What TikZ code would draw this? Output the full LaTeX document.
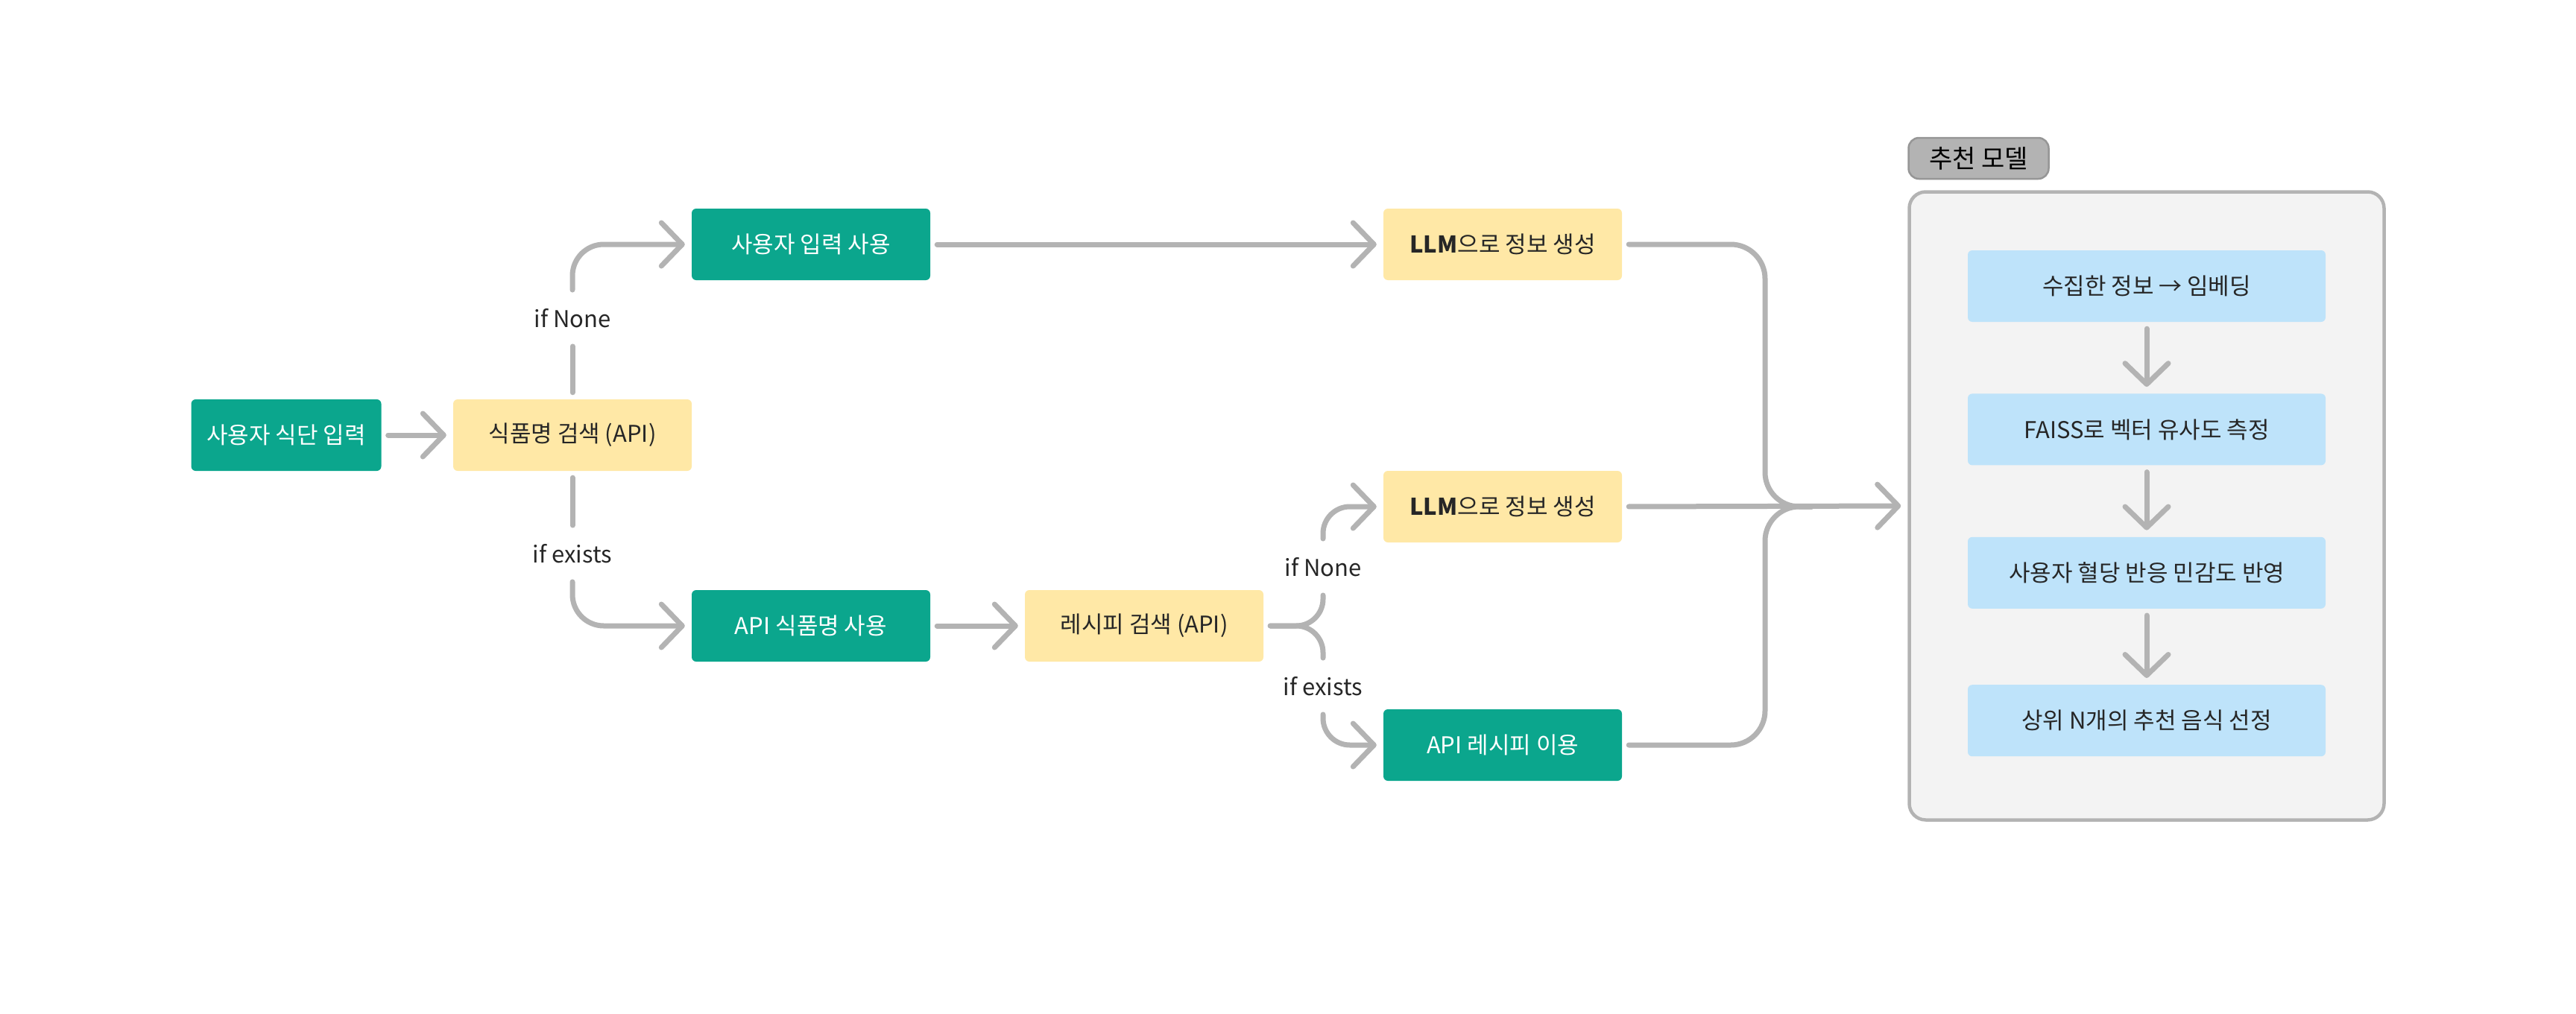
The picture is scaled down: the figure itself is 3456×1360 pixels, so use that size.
\documentclass[tikz,border=0pt]{standalone}
\usepackage{fontspec}
\setmainfont{Noto Sans CJK KR}
\usetikzlibrary{arrows.meta,positioning}

\definecolor{boxgreen}{RGB}{11,166,141}
\definecolor{boxyellow}{RGB}{255,232,166}
\definecolor{boxblue}{RGB}{190,227,250}
\definecolor{linegray}{RGB}{179,179,179}
\definecolor{tagborder}{RGB}{150,150,150}
\definecolor{panelgray}{RGB}{243,243,243}
\definecolor{textdark}{RGB}{38,38,38}

\tikzset{
	basebox/.style={rounded corners=6pt, minimum width=320pt, minimum height=96pt, inner sep=0pt, font=\fontsize{31}{37}\selectfont},
	greenbox/.style={basebox, fill=boxgreen, text=white},
	yellowbox/.style={basebox, fill=boxyellow, text=textdark},
	bluebox/.style={basebox, fill=boxblue, text=textdark, minimum width=480pt},
	branchlabel/.style={text=textdark, inner xsep=0pt, inner ysep=16pt, font=\fontsize{31}{37}\selectfont},
	link/.style={draw=linegray, line width=7pt, line cap=round, line join=round, rounded corners=42pt, shorten <=9pt, shorten >=9pt},
	tip/.style={-{Straight Barb[length=28pt,width=58pt,round]}},
}

\begin{document}
\begin{tikzpicture}[x=1pt,y=1pt,yscale=-1,xscale=1]
	\useasboundingbox (0,0) rectangle (3456,1360);
	
	%Shape: Rectangle [recommendation panel]
	\node[draw=linegray, fill=panelgray, line width=4.5pt, rounded corners=22pt, minimum width=637pt, minimum height=843pt] (model) at (2880,679) {};
	\node[fill=linegray, draw=tagborder, line width=2.5pt, rounded corners=14pt, minimum width=188pt, minimum height=55pt, inner sep=0pt, font=\fontsize{34}{40}\selectfont, anchor=south west] (modeltag) at ([yshift=-14pt]model.north west) {추천 모델};
	
	% left part
	\node[greenbox, minimum width=255pt] (dietin) at (384,584) {사용자 식단 입력};
	\node[yellowbox] (foodsearch) at (768,584) {식품명 검색 (API)};
	\node[greenbox] (userinput) at (1088,328) {사용자 입력 사용};
	\node[greenbox] (apiname) at (1088,840) {API 식품명 사용};
	\node[yellowbox] (recipesearch) at (1535,840) {레시피 검색 (API)};
	
	% right part
	\node[yellowbox] (llmtop) at (2016,328) {{\bfseries LLM}으로 정보 생성};
	\node[yellowbox] (llmmid) at (2016,680) {{\bfseries LLM}으로 정보 생성};
	\node[greenbox] (apirecipe) at (2016,1000) {API 레시피 이용};
	
	% Text Node
	\node[branchlabel] (nonefood) at (768,427) {if None};
	\node[branchlabel] (existfood) at (768,743) {if exists};
	\node[branchlabel] (nonerecipe) at (1775,761) {if None};
	\node[branchlabel] (existrecipe) at (1775,921) {if exists};
	
	% model steps
	\node[bluebox] (embed) at (2880,384) {수집한 정보 → 임베딩};
	\node[bluebox, below=96pt of embed] (faiss) {FAISS로 벡터 유사도 측정};
	\node[bluebox, below=96pt of faiss] (glucose) {사용자 혈당 반응 민감도 반영};
	\node[bluebox, below=102pt of glucose] (topn) {상위 N개의 추천 음식 선정};
	
	\coordinate (merge) at (2368,680);
	\coordinate (mergeout) at (2440,680);
	
	%Straight Lines
	\draw[link,tip] (dietin) -- (foodsearch);
	\draw[link] (foodsearch) -- (nonefood);
	\draw[link,tip] (nonefood.north) |- (userinput.west);
	\draw[link] (foodsearch) -- (existfood);
	\draw[link,tip] (existfood.south) |- (apiname.west);
	\draw[link,tip] (apiname) -- (recipesearch);
	\draw[link,tip] (userinput) -- (llmtop);
	
	% recipe branch
	\draw[link, rounded corners=36pt] (recipesearch.east) -| (nonerecipe.south);
	\draw[link, rounded corners=36pt] (recipesearch.east) -| (existrecipe.north);
	\draw[link,tip, rounded corners=36pt] (nonerecipe.north) |- (llmmid.west);
	\draw[link,tip, rounded corners=36pt] (existrecipe.south) |- (apirecipe.west);
	
	% merge into model
	\draw[link, rounded corners=46pt] (llmtop.east) -| (merge) -- (mergeout);
	\draw[link, rounded corners=46pt] (apirecipe.east) -| (merge) -- (mergeout);
	\draw[link,tip] (llmmid.east) -- (model.west);
	
	% model flow
	\draw[link,tip] (embed) -- (faiss);
	\draw[link,tip] (faiss) -- (glucose);
	\draw[link,tip] (glucose) -- (topn);
	
\end{tikzpicture}
\end{document}
